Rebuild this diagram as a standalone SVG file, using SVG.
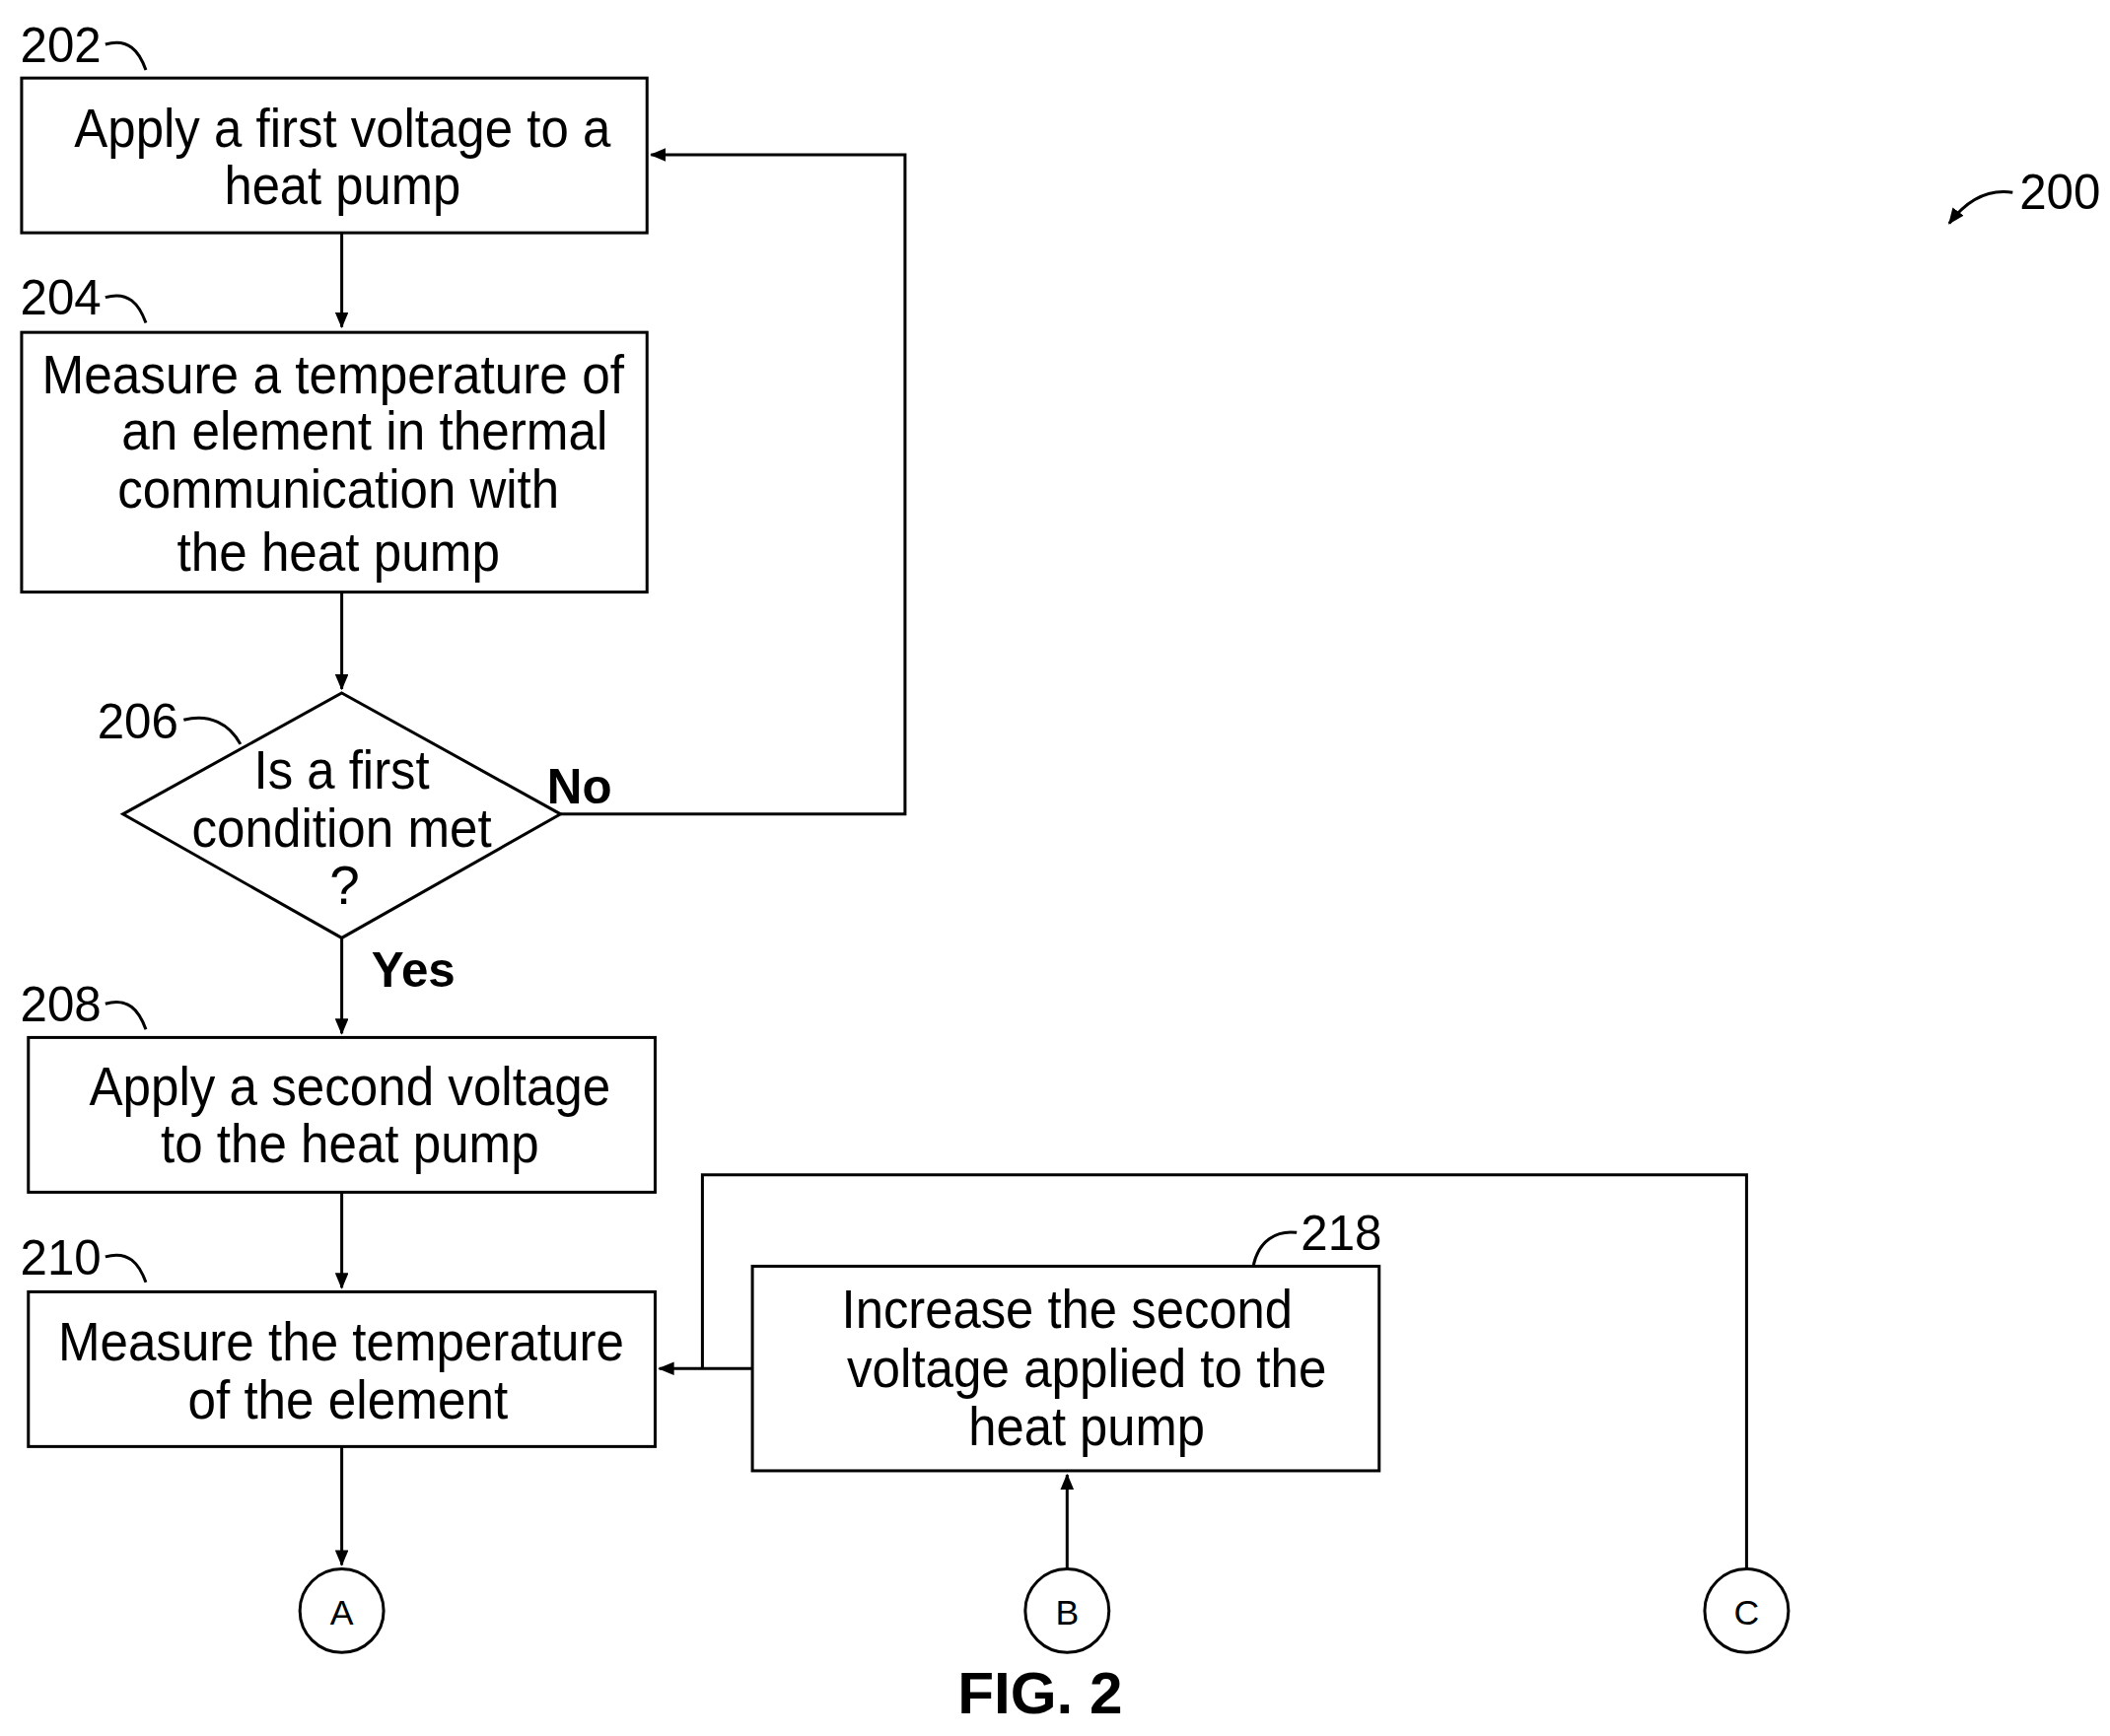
<svg xmlns="http://www.w3.org/2000/svg" width="2140" height="1761" viewBox="0 0 2140 1761">
<style>
.b{fill:#fff;stroke:#000;stroke-width:2.2}
.c{fill:none;stroke:#000;stroke-width:2.2}
.t{font-family:"Liberation Sans Narrow","Liberation Sans",Arial,sans-serif;font-size:40px;fill:#000}
.n{font-family:"Liberation Sans Narrow","Liberation Sans",Arial,sans-serif;font-size:36px;fill:#000}
.k{font-family:"Liberation Sans",Arial,sans-serif;font-weight:bold;fill:#000}
.s{font-family:"Liberation Sans",Arial,sans-serif;font-size:26px;fill:#000;text-anchor:middle}
</style>
<defs><marker id="a" markerWidth="12" markerHeight="10" refX="11" refY="5" orient="auto" markerUnits="userSpaceOnUse"><path d="M0,0 L12,5 L0,10 Z" fill="#000"/></marker></defs>
<rect width="2140" height="1761" fill="#fff"/>
<g transform="scale(1.37,1.365)">
<g id="connectors">
<path class="c" d="M253,173 V243" marker-end="url(#a)"/>
<path class="c" d="M253,440 V512" marker-end="url(#a)"/>
<path class="c" d="M415,605 H670 V115 H482" marker-end="url(#a)"/>
<path class="c" d="M253,697 V768" marker-end="url(#a)"/>
<path class="c" d="M253,886 V957" marker-end="url(#a)"/>
<path class="c" d="M557,1017 H488" marker-end="url(#a)"/>
<path class="c" d="M520,1017 V873 H1293 V1166"/>
<path class="c" d="M253,1075 V1163" marker-end="url(#a)"/>
<path class="c" d="M790,1166 V1096" marker-end="url(#a)"/>
<path class="c" d="M78,33 C95,28 103,38 108,52"/>
<path class="c" d="M78,221 C95,216 103,226 108,240"/>
<path class="c" d="M136,535 C155,530 170,538 178,553"/>
<path class="c" d="M78,746 C95,741 103,751 108,765"/>
<path class="c" d="M78,934 C95,929 103,939 108,953"/>
<path class="c" d="M928,940 C932,922 945,914 960,916"/>
<path class="c" d="M1490,143 C1470,140 1455,150 1443,166" marker-end="url(#a)"/>
</g>
<g id="n202"><rect class="b" x="16" y="58" width="463" height="115"/>
<text class="t" x="55" y="109" textLength="397" lengthAdjust="spacingAndGlyphs">Apply a first voltage to a</text>
<text class="t" x="166" y="152" textLength="175" lengthAdjust="spacingAndGlyphs">heat pump</text>
<text class="n" x="15" y="46" textLength="60" lengthAdjust="spacingAndGlyphs">202</text></g>
<g id="n204"><rect class="b" x="16" y="247" width="463" height="193"/>
<text class="t" x="31" y="292" textLength="431" lengthAdjust="spacingAndGlyphs">Measure a temperature of</text>
<text class="t" x="90" y="334" textLength="360" lengthAdjust="spacingAndGlyphs">an element in thermal</text>
<text class="t" x="87" y="377" textLength="327" lengthAdjust="spacingAndGlyphs">communication with</text>
<text class="t" x="131" y="424" textLength="239" lengthAdjust="spacingAndGlyphs">the heat pump</text>
<text class="n" x="15" y="234" textLength="60" lengthAdjust="spacingAndGlyphs">204</text></g>
<g id="n206"><path class="b" d="M253,515 L415,605 L253,697 L91,605 Z"/>
<text class="t" x="188" y="586" textLength="130" lengthAdjust="spacingAndGlyphs">Is a first</text>
<text class="t" x="142" y="629" textLength="222" lengthAdjust="spacingAndGlyphs">condition met</text>
<text class="t" x="244" y="672">?</text>
<text class="n" x="72" y="549" textLength="60" lengthAdjust="spacingAndGlyphs">206</text>
<text class="k" x="405" y="597" font-size="36">No</text>
<text class="k" x="275" y="733" font-size="36">Yes</text></g>
<g id="n208"><rect class="b" x="21" y="771" width="464" height="115"/>
<text class="t" x="66" y="821" textLength="386" lengthAdjust="spacingAndGlyphs">Apply a second voltage</text>
<text class="t" x="119" y="864" textLength="280" lengthAdjust="spacingAndGlyphs">to the heat pump</text>
<text class="n" x="15" y="759" textLength="60" lengthAdjust="spacingAndGlyphs">208</text></g>
<g id="n210"><rect class="b" x="21" y="960" width="464" height="115"/>
<text class="t" x="43" y="1011" textLength="419" lengthAdjust="spacingAndGlyphs">Measure the temperature</text>
<text class="t" x="139" y="1054" textLength="237" lengthAdjust="spacingAndGlyphs">of the element</text>
<text class="n" x="15" y="947" textLength="60" lengthAdjust="spacingAndGlyphs">210</text></g>
<g id="n218"><rect class="b" x="557" y="941" width="464" height="152"/>
<text class="t" x="623" y="987" textLength="334" lengthAdjust="spacingAndGlyphs">Increase the second</text>
<text class="t" x="627" y="1031" textLength="355" lengthAdjust="spacingAndGlyphs">voltage applied to the</text>
<text class="t" x="717" y="1074" textLength="175" lengthAdjust="spacingAndGlyphs">heat pump</text>
<text class="n" x="963" y="929" textLength="60" lengthAdjust="spacingAndGlyphs">218</text></g>
<g id="A"><circle class="b" cx="253" cy="1197" r="31"/><text class="s" x="253" y="1207">A</text></g>
<g id="B"><circle class="b" cx="790" cy="1197" r="31"/><text class="s" x="790" y="1207">B</text></g>
<g id="C"><circle class="b" cx="1293" cy="1197" r="31"/><text class="s" x="1293" y="1207">C</text></g>
<text class="n" x="1495" y="155" textLength="60" lengthAdjust="spacingAndGlyphs">200</text>
<text class="k" x="770" y="1273" font-size="44" text-anchor="middle">FIG. 2</text>
</g>
</svg>
